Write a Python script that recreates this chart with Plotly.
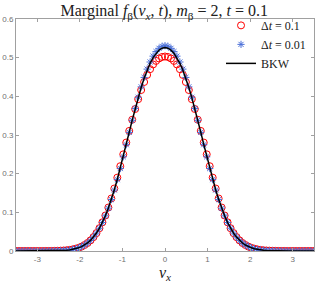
import plotly.graph_objects as go

vx = [-3.50, -3.43, -3.36, -3.29, -3.22, -3.15, -3.08, -3.01, -2.94, -2.87,
      -2.80, -2.73, -2.66, -2.59, -2.52, -2.45, -2.38, -2.31, -2.24, -2.17,
      -2.10, -2.03, -1.96, -1.89, -1.82, -1.75, -1.68, -1.61, -1.54, -1.47,
      -1.40, -1.33, -1.26, -1.19, -1.12, -1.05, -0.98, -0.91, -0.84, -0.77,
      -0.70, -0.63, -0.56, -0.49, -0.42, -0.35, -0.28, -0.21, -0.14, -0.07,
      0.00,
      0.07, 0.14, 0.21, 0.28, 0.35, 0.42, 0.49, 0.56, 0.63, 0.70,
      0.77, 0.84, 0.91, 0.98, 1.05, 1.12, 1.19, 1.26, 1.33, 1.40,
      1.47, 1.54, 1.61, 1.68, 1.75, 1.82, 1.89, 1.96, 2.03, 2.10,
      2.17, 2.24, 2.31, 2.38, 2.45, 2.52, 2.59, 2.66, 2.73, 2.80,
      2.87, 2.94, 3.01, 3.08, 3.15, 3.22, 3.29, 3.36, 3.43, 3.50]

f_dt01 = [0, 0, 0, 0, 0, 0, 0, 0, 0, 0,
          0.0001, 0.0001, 0.0002, 0.0004, 0.0006, 0.0009, 0.0013, 0.0019, 0.0028, 0.0041,
          0.0059, 0.0082, 0.0113, 0.0155, 0.0207, 0.0275, 0.0359, 0.0463, 0.0590, 0.0742,
          0.0919, 0.1125, 0.1358, 0.1616, 0.1898, 0.2193, 0.2500, 0.2805, 0.3106, 0.3395,
          0.3672, 0.3927, 0.4163, 0.4371, 0.4553, 0.4703, 0.4825, 0.4916, 0.4979, 0.5017,
          0.5030,
          0.5017, 0.4979, 0.4916, 0.4825, 0.4703, 0.4553, 0.4371, 0.4163, 0.3927, 0.3672,
          0.3395, 0.3106, 0.2805, 0.2500, 0.2193, 0.1898, 0.1616, 0.1358, 0.1125, 0.0919,
          0.0742, 0.0590, 0.0463, 0.0359, 0.0275, 0.0207, 0.0155, 0.0113, 0.0082, 0.0059,
          0.0041, 0.0028, 0.0019, 0.0013, 0.0009, 0.0006, 0.0004, 0.0002, 0.0001, 0.0001,
          0, 0, 0, 0, 0, 0, 0, 0, 0, 0]

f_dt001 = [0, 0, 0, 0, 0, 0, 0, 0, 0, 0,
           0.0001, 0.0001, 0.0002, 0.0004, 0.0006, 0.0009, 0.0013, 0.0019, 0.0028, 0.0041,
           0.0059, 0.0082, 0.0113, 0.0155, 0.0207, 0.0275, 0.0359, 0.0463, 0.0588, 0.0736,
           0.0909, 0.1108, 0.1330, 0.1577, 0.1846, 0.2133, 0.2437, 0.2749, 0.3067, 0.3380,
           0.3687, 0.3976, 0.4245, 0.4489, 0.4704, 0.4888, 0.5039, 0.5157, 0.5242, 0.5293,
           0.5310,
           0.5293, 0.5242, 0.5157, 0.5039, 0.4888, 0.4704, 0.4489, 0.4245, 0.3976, 0.3687,
           0.3380, 0.3067, 0.2749, 0.2437, 0.2133, 0.1846, 0.1577, 0.1330, 0.1108, 0.0909,
           0.0736, 0.0588, 0.0463, 0.0359, 0.0275, 0.0207, 0.0155, 0.0113, 0.0082, 0.0059,
           0.0041, 0.0028, 0.0019, 0.0013, 0.0009, 0.0006, 0.0004, 0.0002, 0.0001, 0.0001,
           0, 0, 0, 0, 0, 0, 0, 0, 0, 0]

f_bkw = [0, 0, 0, 0, 0, 0, 0, 0, 0, 0,
         0.0001, 0.0001, 0.0002, 0.0004, 0.0006, 0.0009, 0.0013, 0.0019, 0.0028, 0.0041,
         0.0059, 0.0082, 0.0113, 0.0155, 0.0207, 0.0275, 0.0359, 0.0463, 0.0588, 0.0737,
         0.0911, 0.1111, 0.1335, 0.1584, 0.1855, 0.2144, 0.2448, 0.2759, 0.3074, 0.3383,
         0.3684, 0.3967, 0.4230, 0.4468, 0.4677, 0.4855, 0.5001, 0.5114, 0.5195, 0.5244,
         0.5260,
         0.5244, 0.5195, 0.5114, 0.5001, 0.4855, 0.4677, 0.4468, 0.4230, 0.3967, 0.3684,
         0.3383, 0.3074, 0.2759, 0.2448, 0.2144, 0.1855, 0.1584, 0.1335, 0.1111, 0.0911,
         0.0737, 0.0588, 0.0463, 0.0359, 0.0275, 0.0207, 0.0155, 0.0113, 0.0082, 0.0059,
         0.0041, 0.0028, 0.0019, 0.0013, 0.0009, 0.0006, 0.0004, 0.0002, 0.0001, 0.0001,
         0, 0, 0, 0, 0, 0, 0, 0, 0, 0]

x_ticks = [-3, -2, -1, 0, 1, 2, 3]
y_ticks = [0, 0.1, 0.2, 0.3, 0.4, 0.5, 0.6]
y_tick_labels = ["0", "0.1", "0.2", "0.3", "0.4", "0.5", "0.6"]

SERIF = "Liberation Serif, DejaVu Serif, serif"
SANS = "Liberation Sans, DejaVu Sans, sans-serif"

fig = go.Figure()
fig.add_trace(go.Scatter(
    x=vx, y=f_dt01, mode="markers", name="Δ<i>t</i> = 0.1",
    marker=dict(symbol="circle-open", size=7, color="#ff0000", line=dict(width=1, color="#ff0000")),
))
fig.add_trace(go.Scatter(
    x=vx, y=f_dt001, mode="markers", name="Δ<i>t</i> = 0.01",
    marker=dict(symbol="asterisk-open", size=6, color="#4a6fd8", line=dict(width=1, color="#4a6fd8")),
))
fig.add_trace(go.Scatter(
    x=vx, y=f_bkw, mode="lines", name="BKW",
    line=dict(color="#000000", width=1.5),
))

axis_common = dict(
    showline=True, linecolor="#a0a0a0", linewidth=1, mirror="ticks",
    ticks="inside", ticklen=3, tickcolor="#a0a0a0", tickwidth=1,
    showgrid=False, zeroline=False,
    tickfont=dict(family=SANS, size=8, color="#707070"),
)

fig.update_layout(
    width=319, height=283,
    margin=dict(l=16, r=5, t=19, b=32),
    paper_bgcolor="white", plot_bgcolor="white",
    title=dict(
        text="Marginal <i>f</i><sub>β</sub>(<i>v<sub>x</sub></i>, <i>t</i>), <i>m</i><sub>β</sub> = 2, <i>t</i> = 0.1",
        x=0.515, xanchor="center", y=0.962, yanchor="middle", yref="container",
        font=dict(family=SERIF, size=16, color="#202020"),
    ),
    xaxis=dict(
        range=[-3.5, 3.5], tickvals=x_ticks, ticktext=[str(t) for t in x_ticks],
        title=dict(text="<i>v<sub>x</sub></i>", font=dict(family=SERIF, size=16, color="#202020"), standoff=8),
        automargin=False, **axis_common,
    ),
    yaxis=dict(
        range=[0, 0.6], tickvals=y_ticks, ticktext=y_tick_labels,
        automargin=False, **axis_common,
    ),
    legend=dict(
        x=0.99, y=1.035, xanchor="right", yanchor="top",
        bgcolor="rgba(0,0,0,0)", borderwidth=0,
        font=dict(family=SERIF, size=12, color="#202020"),
        tracegroupgap=0, itemwidth=30,
    ),
    showlegend=True,
)

fig.write_html("out.html", config={"displayModeBar": False},
               post_script="document.body.style.margin='0';document.body.style.padding='0';")
